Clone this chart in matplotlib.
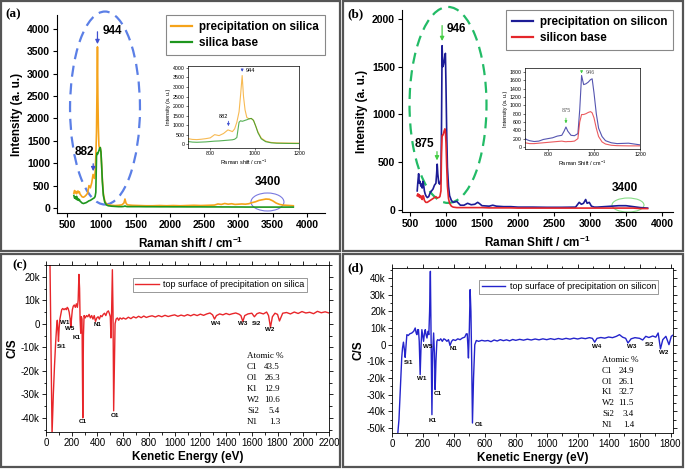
import matplotlib
matplotlib.use('Agg')
import matplotlib.pyplot as plt
from matplotlib.patches import Ellipse, Rectangle
from matplotlib.ticker import FuncFormatter, MultipleLocator

plt.rcParams['font.family'] = 'Liberation Sans'
plt.rcParams['mathtext.default'] = 'regular'

# ---- (a) Raman, silica ----
a_x = [600, 610, 620, 630, 640, 650, 660, 670, 680, 690, 700, 720, 740, 760, 780, 800,
       820, 840, 860, 880, 900, 910, 920, 930, 937, 944, 950, 957, 965, 975, 985,
       995, 1005, 1015, 1030, 1050, 1075, 1100, 1150, 1200, 1250, 1300, 1330, 1345, 1360, 1380,
       1450, 1550, 1650, 1750, 1850, 1950, 2050, 2150, 2250, 2350, 2450, 2550, 2650, 2700, 2750,
       2800, 2850, 2900, 2950, 3000, 3050, 3100, 3150, 3200, 3250, 3300, 3350, 3400, 3450, 3500,
       3550, 3600, 3650, 3700, 3750, 3800]
a_precip = [330, 390, 340, 370, 320, 360, 380, 340, 360, 310, 290, 250, 240, 260, 290, 330,
            500, 450, 560, 750, 660, 800, 1150, 1700, 2600, 3600, 2500, 1800, 1400, 1330, 1350,
            1250, 950, 650, 320, 160, 90, 70, 60, 55, 60, 70, 110, 200, 110, 70,
            60, 55, 50, 50, 55, 50, 55, 50, 55, 60, 55, 60, 65, 90, 80,
            100, 85, 95, 80, 85, 90, 85, 95, 120, 140, 170, 185, 200, 195, 160,
            110, 80, 65, 60, 55, 50]
a_base = [280, 220, 250, 200, 260, 180, 210, 170, 190, 150, 140, 110, 100, 110, 120, 140,
          160, 170, 190, 210, 230, 260, 350, 1150, 1230, 1200, 1220, 1250, 1280, 1330, 1350,
          1250, 950, 600, 280, 130, 70, 50, 40, 35, 30, 30, 35, 45, 35, 30,
          30, 30, 28, 28, 27, 27, 26, 26, 25, 25, 25, 24, 24, 24, 23,
          23, 23, 22, 22, 22, 22, 21, 21, 21, 20, 20, 20, 20, 20, 20,
          20, 20, 20, 20, 20, 20]

# ---- (b) Raman, silicon ----
b_x = [600, 610, 620, 630, 640, 650, 660, 670, 680, 690, 700, 710, 720, 740, 760, 780, 800,
       820, 840, 860, 870, 878, 886, 900, 915, 930, 938, 946, 955, 965, 975, 985,
       992, 1000, 1010, 1020, 1035, 1050, 1075, 1100, 1150, 1200, 1250, 1300, 1350, 1400, 1440,
       1460, 1500, 1600, 1650, 1700, 1800, 1900, 2000, 2200, 2400, 2600, 2800, 2850, 2880, 2910,
       2940, 2960, 2990, 3020, 3060, 3100, 3200, 3300, 3400, 3500, 3600, 3700, 3800]
b_precip = [200, 300, 380, 280, 300, 250, 270, 230, 300, 260, 200, 170, 150, 130, 140, 180, 200,
            220, 260, 280, 380, 480, 380, 280, 270, 320, 900, 1720, 1500, 1520, 1560, 1620,
            1640, 1300, 800, 450, 250, 150, 100, 80, 90, 50, 50, 70, 55, 60, 80,
            70, 45, 40, 50, 40, 35, 35, 30, 30, 28, 28, 30, 80, 60, 70,
            110, 70, 80, 40, 30, 30, 35, 40, 45, 45, 35, 25, 20]
b_base = [150, 170, 140, 160, 130, 150, 120, 110, 150, 140, 100, 90, 80, 80, 90, 100, 110,
          120, 130, 140, 130, 125, 130, 130, 140, 200, 600, 780, 780, 800, 830, 850,
          820, 700, 450, 250, 120, 70, 40, 30, 25, 25, 25, 25, 25, 25, 25,
          25, 25, 22, 22, 22, 22, 22, 20, 20, 20, 20, 20, 20, 20, 20,
          20, 20, 20, 20, 20, 20, 20, 20, 20, 20, 20, 15, 15]

# ---- (c) EDS, silica ----
c_x = [31, 47, 57, 66, 75, 83, 88, 93, 97, 102, 108, 115, 122, 130, 140, 150, 158, 165, 172, 180,
       188, 193, 198, 205, 212, 220, 228, 236, 244, 250, 256, 261, 265, 270, 275, 280, 286, 291, 296, 305,
       315, 325, 335, 345, 355, 365, 375, 385, 395, 405, 415, 425, 435, 445, 455, 465, 475, 485, 492, 500,
       505, 510, 516, 521, 526, 531, 537, 545, 555, 565, 575, 590, 600,
       620, 640, 660, 680, 700, 720, 740, 760, 780, 800,
       825, 850, 875, 900, 925, 950, 975, 1000, 1025, 1050, 1075, 1100, 1125, 1150, 1175, 1200, 1225, 1250, 1275,
       1295, 1310, 1325, 1350, 1375, 1400, 1425, 1450, 1475, 1500,
       1515, 1530, 1545, 1570, 1600, 1620, 1640, 1660, 1690, 1715,
       1730, 1745, 1760, 1780, 1800, 1815, 1840, 1870, 1900, 1930,
       1960, 1990, 2020, 2050, 2080, 2110, 2140, 2170, 2200]
c_y = [26000, -47000, -30000, -18000, -8000, -1000, 1500, -3000, -7500, -2000,
       2000, 4000, 6000, 6500, 6000, 6500, 6000, 7000, 6500, 5000,
       2000, -1500, 2000, 6000, 7500, 8000, 7000, 8500, 7000, 10000,
       21000, 15000, 2000, -4000, 3000, 2000, -40000, -5000, 3500, 2500,
       3500, 3000, 4000, 2500, 3500, 2000, 3500, 1000, 2500, 3000,
       2000, 3500, 3000, 4000, 4500, 3500, 5000, 5500, 4500, 3000,
       -6000, 5000, 23000, 5000, -37000, -20000, 0, 2000, 2500, 1500,
       2500, 2000, 2500,
       2000, 2800, 2200, 3000, 2500, 3200, 2600, 3300, 2700, 3100,
       3400, 2900, 3500, 3000, 3600, 3100, 3500, 3800, 3200, 3700,
       3300, 3900, 3400, 4000, 3500, 4100, 3600, 4200, 4600,
       3800, 2000, 3500, 4200, 3800, 4400, 3900, 4300, 4600, 4100,
       3500, 1000, 3500, 4200, 4500, 3000, 4300, 4700, 4200, 5000,
       3500, -1500, 3000, 4500, 4000, 1200, 4500, 4800, 4200, 5000,
       4400, 5200, 4600, 4900, 4300, 5300, 4700, 5100, 4600]
c_peaks = ['Si1', 'W1', 'W5', 'K1', 'C1', 'N1', 'O1', 'W4', 'W3', 'Si2', 'W2']
c_peak_x = [124, 148, 187, 241, 288, 404, 536, 1321, 1531, 1640, 1741]
c_peak_y = [-9600, 700, -2100, -5700, -41500, -400, -39000, 300, 300, 300, -2600]

# ---- (d) EDS, silicon ----
d_x = [35, 45, 52, 58, 63, 68, 74, 80, 85, 91, 96, 105, 115, 128, 140, 150, 156, 161, 166, 171,
       176, 182, 188, 193, 198, 204, 210, 215, 220, 226, 232, 238, 243, 248, 253, 258, 263, 269, 274, 279,
       284, 290, 295, 305, 315, 325, 335, 345, 355, 365, 375, 385, 395, 410, 425, 440, 455, 470, 480, 486,
       490, 494, 500, 505, 510, 515, 520, 527, 535, 545, 560, 580, 600,
       620, 640, 660, 680, 700, 720, 740, 760, 780, 800,
       825, 850, 875, 900, 925, 950, 975, 1000, 1025, 1050, 1075, 1100, 1125, 1150, 1175, 1200, 1225, 1250, 1275,
       1295, 1310, 1325, 1350, 1375, 1400, 1425, 1450, 1470, 1490,
       1510, 1525, 1545, 1570, 1600, 1620, 1640, 1660, 1685, 1705,
       1720, 1735, 1750, 1770, 1790, 1805, 1820]
d_y = [-56000, -45000, -31000, -18000, -7600, -2000, 1500, -3000, -7600, 0,
       6000, 5500, 6500, 7000, 8000, 10000, 7000, 6000, 9000, 9000,
       2000, -18000, 0, 9000, 6000, 2000, 7000, 9000, 6000, 4000,
       8000, 6000, 20000, 44000, 0, -42000, -5000, 7000, -5000, -27000,
       -10000, 2000, 3000, 2500, 3500, 2000, 3500, 3000, 2000, 3000,
       -500, 2000, 3000, 2500, 3500, 3000, 4000, 4500, 6500, 6500,
       0, -8000, 10000, 33000, 20000, -10000, -47000, -20000, 0, 2500,
       2000, 2600, 2200,
       2500, 1800, 2800, 2200, 3000, 2400, 2900, 2300, 3100, 2600,
       3200, 2700, 3300, 2800, 3400, 2900, 3500, 3000, 3600, 3100,
       3700, 3200, 3800, 3300, 3900, 3400, 4000, 3600, 4200,
       3800, 1500, 3800, 4300, 3900, 4600, 4200, 5000, 6000, 4500,
       3800, 1000, 3500, 4200, 3800, 2800, 5000, 4300, 5200, 4500,
       7000, -2500, 3000, 5000, 0, 5000, 6000]
d_peaks = ['Si1', 'W1', 'W5', 'K1', 'C1', 'N1', 'O1', 'W4', 'W3', 'Si2', 'W2']
d_peak_x = [104, 195, 228, 260, 293, 397, 560, 1322, 1550, 1661, 1759]
d_peak_y = [-10400, -20500, -1000, -45600, -29500, -2000, -48000, -800, -800, -200, -5000]

atoms = ['C1', 'O1', 'K1', 'W2', 'Si2', 'N1']
c_pct = ['43.5', '26.3', '12.9', '10.6', '5.4', '1.3']
d_pct = ['24.9', '26.1', '32.7', '11.5', '3.4', '1.4']

W, H = 685, 469
fig = plt.figure(figsize=(W / 100, H / 100), dpi=100)


def px_axes(x0, y0, x1, y1):
    return fig.add_axes([x0 / W, 1 - y1 / H, (x1 - x0) / W, (y1 - y0) / H])


def fig_text(x, y, s, **kw):
    fig.text(x / W, 1 - y / H, s, **kw)


# panel frames
for x0, y0, x1, y1 in [(1, 1, 340, 251), (343, 1, 683, 251), (1, 254, 340, 467), (343, 254, 683, 467)]:
    fig.add_artist(Rectangle((x0 / W, 1 - y1 / H), (x1 - x0) / W, (y1 - y0) / H,
                             transform=fig.transFigure, fill=False, ec='#555555', lw=1.6))


def bold_ticks(ax):
    for lab in ax.get_xticklabels() + ax.get_yticklabels():
        lab.set_fontweight('bold')


def raman_panel(box, xlim, ylim, yticks, x, s1, s2, c1, c2, l1, l2, xlabel):
    ax = px_axes(*box)
    ax.plot(x, s1, color=c1, lw=1.2, label=l1)
    ax.plot(x, s2, color=c2, lw=1.2, label=l2)
    ax.set_xlim(*xlim)
    ax.set_ylim(*ylim)
    ax.set_xticks([500, 1000, 1500, 2000, 2500, 3000, 3500, 4000])
    ax.set_yticks(yticks)
    ax.spines['top'].set_visible(False)
    ax.spines['right'].set_visible(False)
    ax.tick_params(direction='out', length=3, width=0.8, labelsize=7.5, pad=2)
    bold_ticks(ax)
    ax.set_xlabel(xlabel, fontsize=8.5, fontweight='bold', labelpad=4)
    ax.set_ylabel('Intensity (a. u.)', fontsize=8.5, fontweight='bold', labelpad=3)
    leg = ax.legend(loc='upper right', bbox_to_anchor=(1.0, 1.0), borderaxespad=0,
                    prop={'weight': 'bold', 'size': 8.4}, fancybox=False, framealpha=1,
                    edgecolor='#888888', handlelength=1.8, labelspacing=0.35,
                    borderpad=0.5, handletextpad=0.6)
    leg.get_frame().set_linewidth(0.8)
    for ln in leg.get_lines():
        ln.set_linewidth(1.6)
    return ax


def raman_inset(box, ylim, yticks, x, s1, s2, c1, c2, xlabel):
    ax = px_axes(*box)
    ax.plot(x, s1, color=c1, lw=0.8, alpha=0.75)
    ax.plot(x, s2, color=c2, lw=0.8, alpha=0.75)
    ax.set_xlim(700, 1200)
    ax.set_ylim(*ylim)
    ax.set_xticks([800, 1000, 1200])
    ax.set_yticks(yticks)
    ax.tick_params(labelsize=3.8, length=1.5, width=0.4, pad=1)
    for sp in ax.spines.values():
        sp.set_linewidth(0.5)
    ax.set_xlabel(xlabel, fontsize=4, labelpad=1)
    ax.set_ylabel('Intensity (a. u.)', fontsize=4, labelpad=1)
    return ax


def arrow(ax, x, y0, y1, color, lw=0.9, ms=6):
    ax.annotate('', xy=(x, y1), xytext=(x, y0),
                arrowprops=dict(arrowstyle='-|>', color=color, lw=lw, mutation_scale=ms))


# ---------- (a) ----------
orange, green = '#f5a31a', '#1e961e'
ax = raman_panel((57, 15, 325, 213), (354, 4262), (-112, 4313),
                 [0, 500, 1000, 1500, 2000, 2500, 3000, 3500, 4000],
                 a_x, a_precip, a_base, orange, green,
                 'precipitation on silica', 'silica base', 'Raman shift / cm$^{-1}$')
ax.add_patch(Ellipse((1054, 2234), 1020, 4313, fill=False, ec='#5b7fe6', lw=1.6,
                     ls=(0, (5, 3)), clip_on=False))
ax.add_patch(Ellipse((3423, 134), 481, 402, fill=False, ec='#7a7ae0', lw=0.8, clip_on=False))
arrow(ax, 944, 4000, 3600, '#4050d0')
arrow(ax, 882, 1050, 760, '#4050d0')
ax.text(1020, 3950, '944', fontsize=8.5, fontweight='bold', va='center')
ax.text(748, 1250, '882', fontsize=8.5, fontweight='bold', va='center', ha='center')
ax.text(3430, 580, '3400', fontsize=8.5, fontweight='bold', va='center', ha='center')

ai = raman_inset((188, 66, 299, 148), (-200, 4100), [0, 500, 1000, 1500, 2000, 2500, 3000, 3500, 4000],
                 a_x, a_precip, a_base, orange, green, 'Raman shift / cm$^{-1}$')
arrow(ai, 944, 4050, 3650, '#4050d0', lw=0.6, ms=3.5)
arrow(ai, 882, 1350, 800, '#4050d0', lw=0.6, ms=3.5)
ai.text(960, 3850, '944', fontsize=4, va='center')
ai.text(858, 1450, '882', fontsize=4, va='center', ha='center')

# ---------- (b) ----------
navy, red = '#1c1c96', '#e4262b'
bx = raman_panel((402, 10, 673, 212), (389, 4153), (-21, 2094), [0, 500, 1000, 1500, 2000],
                 b_x, b_precip, b_base, navy, red,
                 'precipitation on silicon', 'silicon base', 'Raman Shift / cm$^{-1}$')
bx.add_patch(Ellipse((1028, 1100), 1069, 2052, fill=False, ec='#22bb66', lw=1.6,
                     ls=(0, (5, 3)), clip_on=False))
bx.add_patch(Ellipse((3528, 52), 444, 147, fill=False, ec='#88dd88', lw=0.8, clip_on=False))
arrow(bx, 946, 1960, 1740, '#44cc44')
arrow(bx, 875, 640, 490, '#44cc44')
bx.text(1015, 1900, '946', fontsize=8.5, fontweight='bold', va='center')
bx.text(694, 690, '875', fontsize=8.5, fontweight='bold', va='center', ha='center')
bx.text(3486, 230, '3400', fontsize=8.5, fontweight='bold', va='center', ha='center')

bi = raman_inset((525, 68, 640, 149), (-50, 1900), [0, 200, 400, 600, 800, 1000, 1200, 1400, 1600, 1800],
                 b_x, b_precip, b_base, navy, red, 'Raman Shift / cm$^{-1}$')
arrow(bi, 946, 1880, 1700, '#44cc44', lw=0.6, ms=3.5)
arrow(bi, 878, 760, 500, '#44cc44', lw=0.6, ms=3.5)
bi.text(962, 1800, '946', fontsize=4, va='center', color='#666666')
bi.text(878, 880, '875', fontsize=4, va='center', ha='center', color='#666666')


# ---------- EDS panels ----------
def kfmt(v, pos):
    return '0' if v == 0 else '%dk' % (v / 1000)


def eds_panel(box, xlim, ylim, xstep, yticks, x, y, color, label, anchor,
              names, px, py, pct, txt_x, txt_y0, txt_dy, num_x):
    ax = px_axes(*box)
    ax.plot(x, y, color=color, lw=1.0, label=label)
    ax.set_xlim(*xlim)
    ax.set_ylim(*ylim)
    ax.xaxis.set_major_locator(MultipleLocator(xstep))
    ax.xaxis.set_minor_locator(MultipleLocator(xstep / 2))
    ax.set_yticks(yticks)
    ax.yaxis.set_minor_locator(MultipleLocator(5000))
    ax.yaxis.set_major_formatter(FuncFormatter(kfmt))
    ax.tick_params(which='both', direction='out', labelsize=7, pad=1.5, width=0.6)
    ax.tick_params(which='major', length=3)
    ax.tick_params(which='minor', length=1.8)
    ax.tick_params(which='both', top=True, right=True)
    for sp in ax.spines.values():
        sp.set_linewidth(0.6)
    ax.set_xlabel('Kenetic Energy (eV)', fontsize=8.5, fontweight='bold', labelpad=2)
    ax.set_ylabel('C/S', fontsize=8.5, fontweight='bold', labelpad=2)
    leg = ax.legend(loc='upper right', bbox_to_anchor=anchor, borderaxespad=0,
                    fontsize=6.5, fancybox=False, framealpha=1, edgecolor='#888888',
                    handlelength=2.6, borderpad=0.25, handletextpad=0.5)
    leg.get_frame().set_linewidth(0.6)
    for n, xx, yy in zip(names, px, py):
        ax.text(xx, yy, n, fontsize=4.5, fontweight='bold', ha='center', va='center')
    fig_text(txt_x, txt_y0, 'Atomic %', fontsize=6.5, family='Liberation Serif', va='center')
    for i, (a, p) in enumerate(zip(atoms, pct)):
        yy = txt_y0 + (i + 1) * txt_dy
        fig_text(txt_x, yy, a, fontsize=6.5, family='Liberation Serif', va='center')
        fig_text(num_x, yy, p, fontsize=6.5, family='Liberation Serif', va='center', ha='right')
    return ax


cx = eds_panel((46, 265, 329, 432), (0, 2200), (-46000, 25000), 200,
               [-40000, -30000, -20000, -10000, 0, 10000, 20000],
               c_x, c_y, '#e8262a', 'top surface of precipitation on silica', (0.922, 0.922),
               c_peaks, c_peak_x, c_peak_y, c_pct, 247, 356, 11.0, 280)
dx = eds_panel((392, 268, 673, 433), (0, 1816), (-53000, 46000), 200,
               [-50000, -40000, -30000, -20000, -10000, 0, 10000, 20000, 30000, 40000],
               d_x, d_y, '#2424cc', 'top surface of precipitation on silicon', (0.947, 0.927),
               d_peaks, d_peak_x, d_peak_y, d_pct, 602, 360, 10.8, 634)

# panel letters
for lx, ly, s in [(5, 14, '(a)'), (347, 14, '(b)'), (12, 265, '(c)'), (347, 268, '(d)')]:
    fig_text(lx, ly, s, fontsize=9.5, fontweight='bold', family='Liberation Serif', va='center')

fig.savefig('out.png', dpi=100)
